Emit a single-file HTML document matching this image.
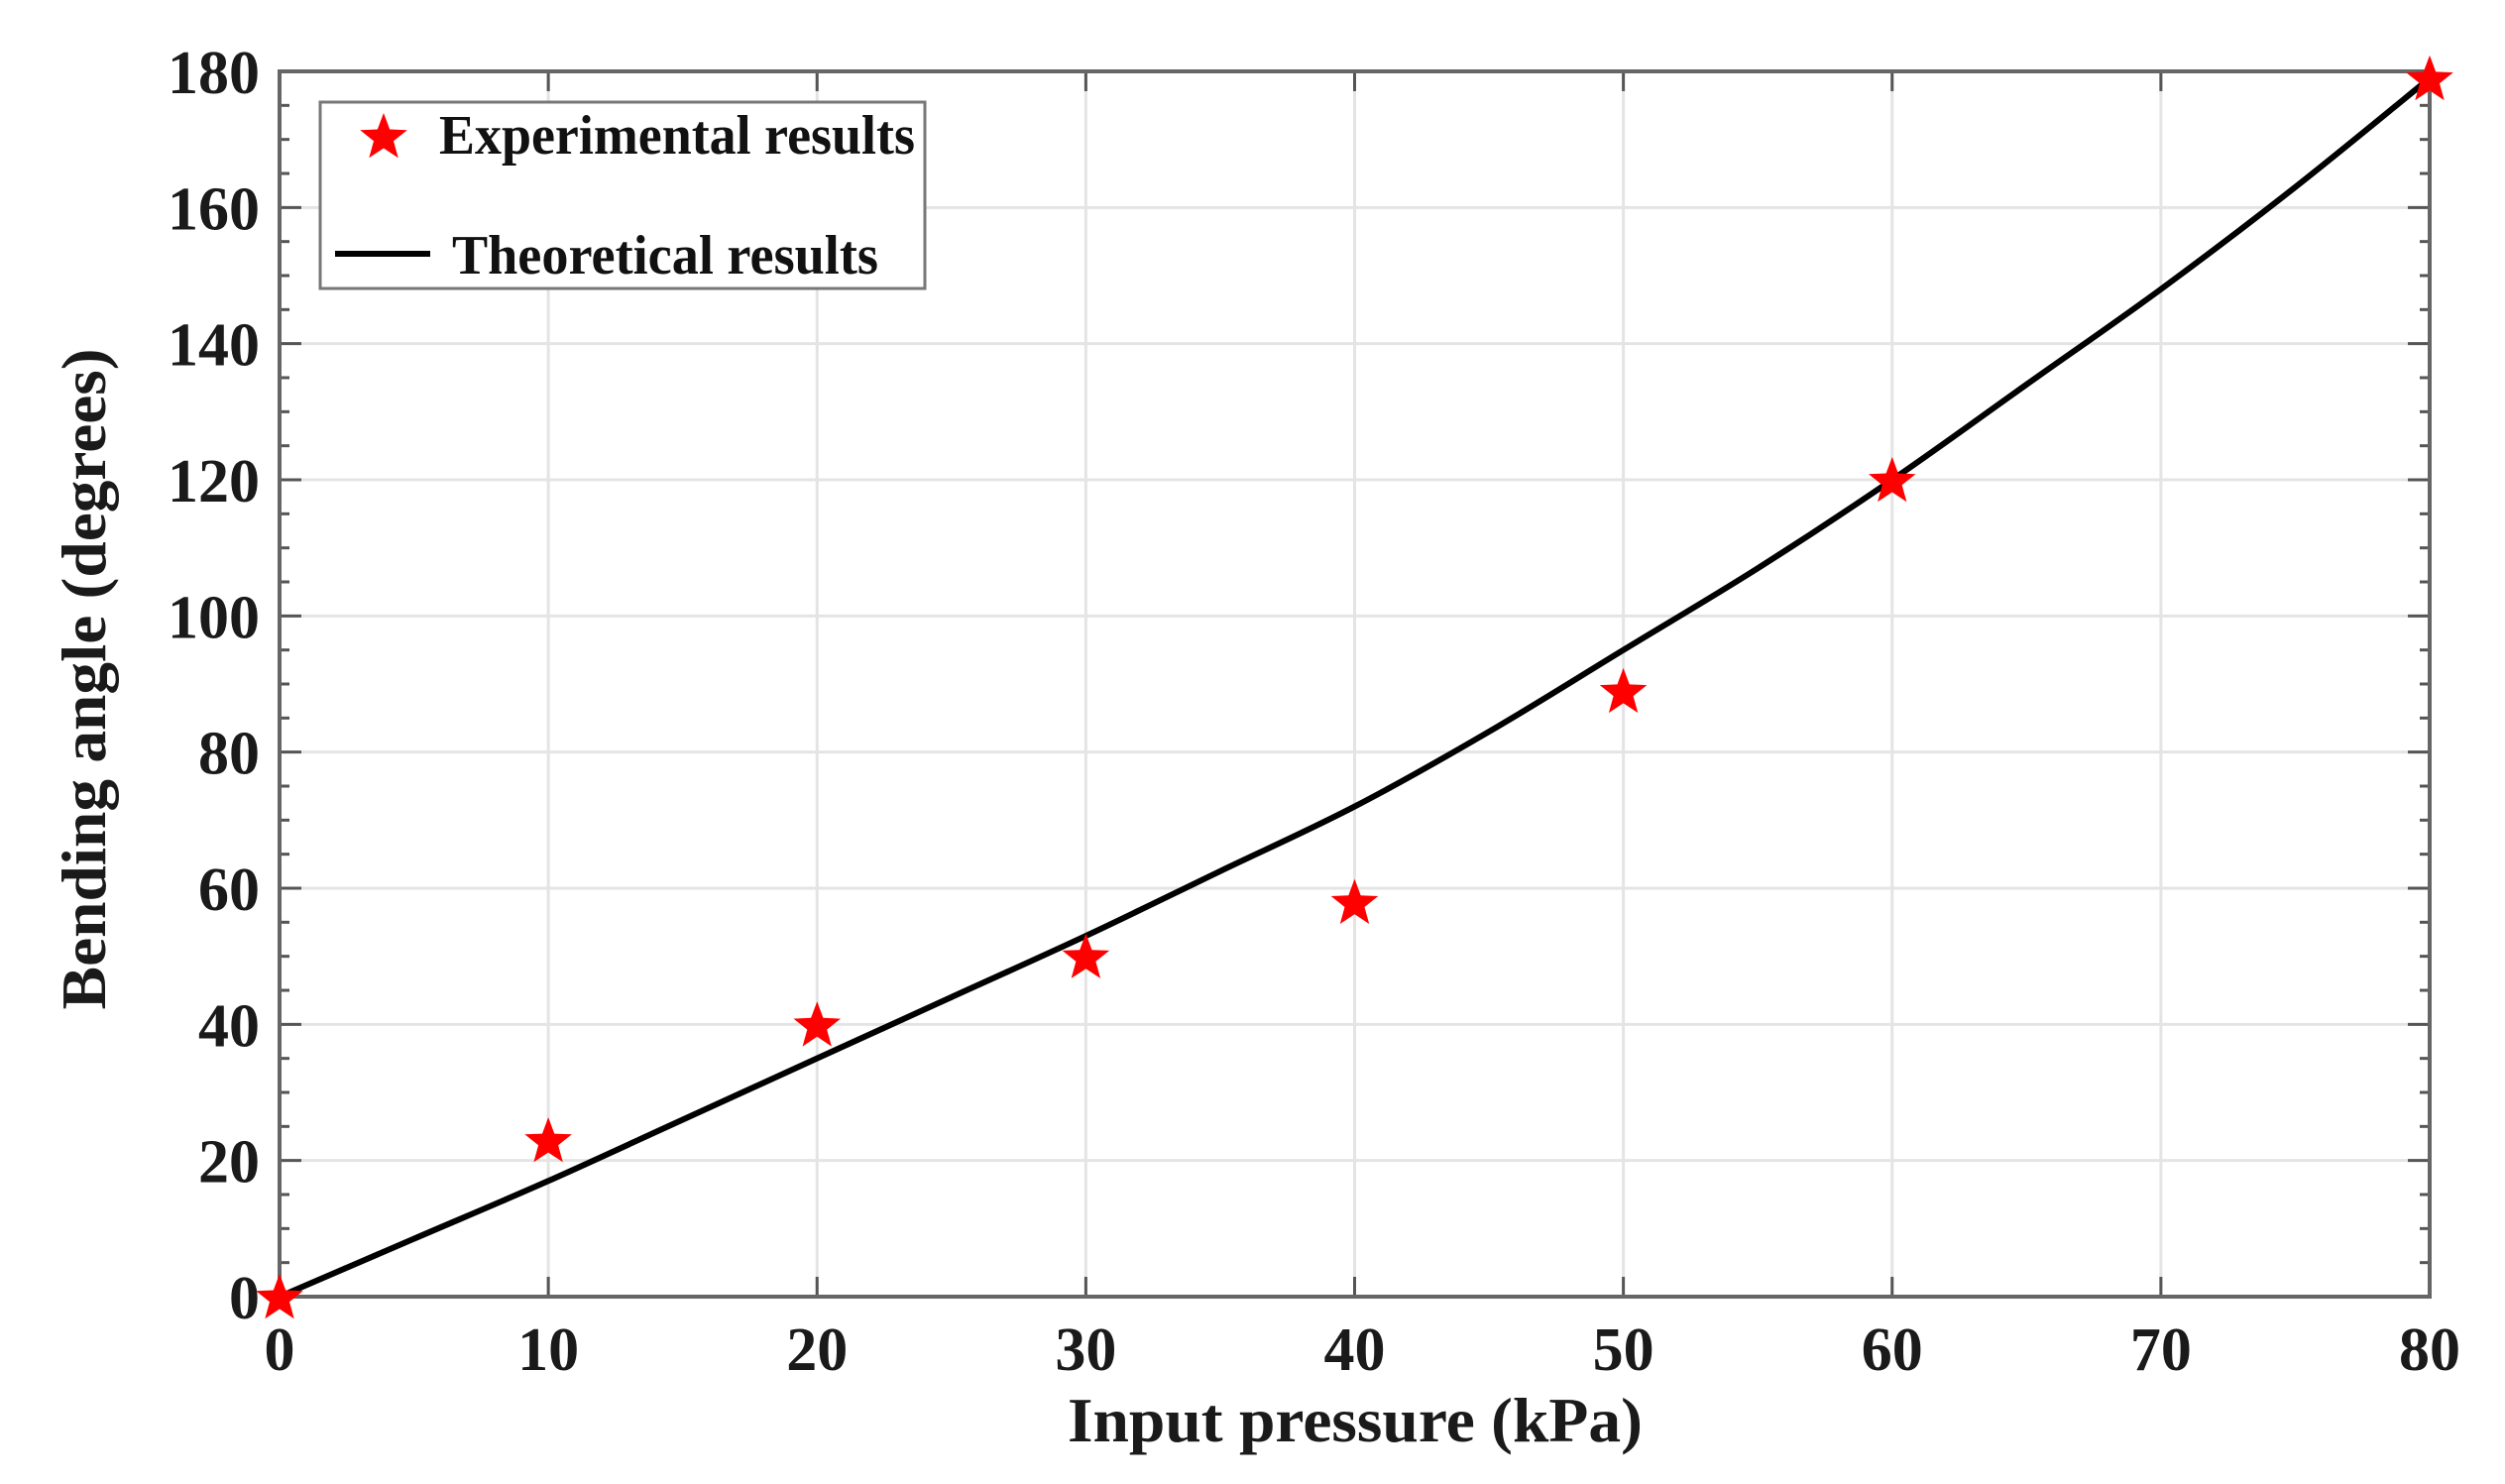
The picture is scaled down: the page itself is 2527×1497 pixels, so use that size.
<!DOCTYPE html>
<html><head><meta charset="utf-8"><style>
html,body{margin:0;padding:0;background:#fff;}
svg{display:block;font-family:"Liberation Serif",serif;font-weight:bold;}
</style></head><body>
<svg id="chart" width="2527" height="1497" viewBox="0 0 2527 1497" xmlns="http://www.w3.org/2000/svg">
<rect width="2527" height="1497" fill="#fff"/>
<g id="grid"></g>
<g id="axes"></g>
<g id="series"></g>
<text x="1367" y="1454" font-size="64" text-anchor="middle" fill="#1a1a1a" textLength="580" lengthAdjust="spacingAndGlyphs">Input pressure (kPa)</text>
<text transform="translate(106,685) rotate(-90)" font-size="64" text-anchor="middle" fill="#1a1a1a" textLength="667" lengthAdjust="spacingAndGlyphs">Bending angle (degrees)</text>
<g>
<rect x="323" y="103" width="610" height="188" fill="#fff" stroke="#777" stroke-width="3"/>
<g>
<path id="legstar" fill="#ff0000"/>
<text x="443" y="155" font-size="56" fill="#111" textLength="480" lengthAdjust="spacingAndGlyphs">Experimental results</text>
</g>
<g>
<line x1="338" y1="256" x2="434" y2="256" stroke="#000" stroke-width="6"/>
<text x="456" y="276" font-size="56" fill="#111" textLength="430" lengthAdjust="spacingAndGlyphs">Theoretical results</text>
</g>
</g>
</svg>
<script>
const xTicks = [0,10,20,30,40,50,60,70,80];
const yTicks = [0,20,40,60,80,100,120,140,160,180];
const expX = [0,10,20,30,40,50,60,80];
const expY = [0,23,40,50,58,89,120,179];
const theoX = [0,5,10,15,20,25,30,35,40,45,50,55,60,65,70,75,80];
const theoY = [0,8.5,17,26,35,44,53,62.5,72,83,95,107,120,134,148,163,179];

const L=282,R=2451,T=72,B=1308;
const sx=v=>L+(v-0)/(80-0)*(R-L);
const sy=v=>B-(v-0)/(180-0)*(B-T);
const NS="http://www.w3.org/2000/svg";
function mk(tag,attrs,parent){const e=document.createElementNS(NS,tag);for(const k in attrs)e.setAttribute(k,attrs[k]);parent.appendChild(e);return e;}
const grid=document.getElementById('grid'),axes=document.getElementById('axes'),series=document.getElementById('series');
xTicks.forEach(v=>{
  const g=mk('line',{x1:sx(v),x2:sx(v),y1:T,y2:B,stroke:'#e4e4e4','stroke-width':3},grid);
  
  
  mk('line',{x1:sx(v),x2:sx(v),y1:B,y2:B-20,stroke:'#555','stroke-width':3},axes);
  mk('line',{x1:sx(v),x2:sx(v),y1:T,y2:T+20,stroke:'#555','stroke-width':3},axes);
  const t=mk('text',{x:sx(v),y:1382,'font-size':62,'text-anchor':'middle',fill:'#1a1a1a'},axes);
  t.textContent=v;
  
  
});
yTicks.forEach(v=>{
  const g=mk('line',{x1:L,x2:R,y1:sy(v),y2:sy(v),stroke:'#e4e4e4','stroke-width':3},grid);
  
  
  const t=mk('text',{x:262,y:sy(v)+22,'font-size':62,'text-anchor':'end',fill:'#1a1a1a'},axes);
  t.textContent=v;
  
  
});
for(let v=0;v<=180;v+=5){
  const len=(v%20===0)?22:10;
  mk('line',{x1:L,x2:L+len,y1:sy(v),y2:sy(v),stroke:'#555','stroke-width':3},axes);
  mk('line',{x1:R,x2:R-len,y1:sy(v),y2:sy(v),stroke:'#555','stroke-width':3},axes);
}
mk('rect',{x:L,y:T,width:R-L,height:B-T,fill:'none',stroke:'#666','stroke-width':4},axes);
const P=theoX.map((x,i)=>[sx(x),sy(theoY[i])]);
let d='M'+P[0][0]+' '+P[0][1];
for(let i=0;i<P.length-1;i++){
  const p0=P[Math.max(i-1,0)],p1=P[i],p2=P[i+1],p3=P[Math.min(i+2,P.length-1)];
  d+=' C'+(p1[0]+(p2[0]-p0[0])/6)+' '+(p1[1]+(p2[1]-p0[1])/6)+' '+(p2[0]-(p3[0]-p1[0])/6)+' '+(p2[1]-(p3[1]-p1[1])/6)+' '+p2[0]+' '+p2[1];
}
const line=mk('path',{d:d,fill:'none',stroke:'#000','stroke-width':6,'stroke-linejoin':'round'},series);


function starPath(cx,cy,r){let s='';for(let i=0;i<10;i++){const a=-Math.PI/2+i*Math.PI/5;const rr=i%2?r*0.42:r;s+=(i?'L':'M')+(cx+rr*Math.cos(a)).toFixed(1)+' '+(cy+rr*Math.sin(a)).toFixed(1);}return s+'Z';}
expX.forEach((x,i)=>{
  const p=mk('path',{d:starPath(sx(x),sy(expY[i])+2,25),fill:'#ff0000'},series);
  
  
});
document.getElementById('legstar').setAttribute('d',starPath(387,139,25));
</script>
</body></html>
